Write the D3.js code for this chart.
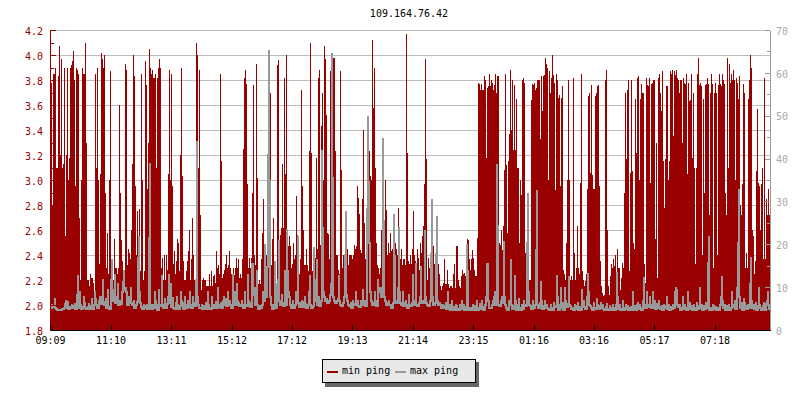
<!DOCTYPE html>
<html>
<head>
<meta charset="utf-8">
<script src="https://cdnjs.cloudflare.com/ajax/libs/d3/7.8.5/d3.min.js"></script>
<style>
html,body{margin:0;padding:0;background:#fff;}
svg{display:block;}
text{font-family:"DejaVu Sans Mono",monospace;font-size:10px;}
</style>
</head>
<body>
<svg id="chart" width="800" height="400"></svg>
<script>
const title = "109.164.76.42";
const startTime = "09:09";
const timeLabels = ["09:09","11:10","13:11","15:12","17:12","19:13","21:14","23:15","01:16","03:16","05:17","07:18"];
const pingTicks = [1.8,2.0,2.2,2.4,2.6,2.8,3.0,3.2,3.4,3.6,3.8,4.0,4.2];
const pingMinorTicks = [1.9,2.1,2.3,2.5,2.7,2.9,3.1,3.3,3.5,3.7,3.9,4.1];
const maxTicks = [0,10,20,30,40,50,60,70];
const maxMinorTicks = [5,15,25,35,45,55,65];
const seriesNames = ["min ping","max ping"];
const minPing = [
3.95,3.78,2.8,3.85,3.85,3.9,3.1,3.1,3.83,4.07,
3.2,3.97,3.1,3.13,3.9,2.55,3.2,3.9,3.0,3.18,
3.9,3.92,3.95,4.03,3.8,2.95,3.9,3.88,3.85,2.7,
2.2,3.0,3.9,3.85,3.85,4.1,3.3,2.2,2.2,2.15,
2.25,2.22,2.22,2.18,2.1,3.85,3.1,3.9,3.0,2.33,
3.05,4.02,3.97,3.9,4.0,2.9,2.3,2.58,2.25,3.0,
3.87,2.3,2.2,2.2,2.53,2.3,2.3,2.25,2.3,3.6,
2.9,2.52,2.35,2.27,2.27,3.93,3.88,2.32,2.45,2.42,
2.37,2.6,3.13,4.0,3.83,2.95,2.4,2.75,2.47,2.77,
2.27,3.85,3.0,2.2,2.27,3.95,3.76,2.93,3.3,4.05,
3.9,3.85,3.88,3.82,3.82,3.85,3.1,3.82,3.9,3.97,
3.9,2.3,2.38,2.2,2.4,2.2,2.4,2.28,3.05,3.88,
3.0,3.85,2.95,2.33,2.43,2.25,2.35,2.53,2.5,2.27,
3.2,3.9,3.03,2.35,2.2,2.2,2.27,2.35,2.43,2.6,
2.2,2.37,2.7,2.4,2.2,2.15,4.1,4.0,3.1,3.88,
2.72,2.12,2.2,2.22,2.2,2.2,2.15,2.15,2.15,2.25,
2.15,2.27,2.15,2.23,2.24,2.18,2.43,2.3,2.32,2.25,
3.85,3.15,2.22,2.25,2.28,2.33,2.4,2.3,2.32,2.43,
2.3,2.25,2.22,2.3,2.24,2.3,2.38,2.3,2.37,2.22,
2.25,2.22,2.37,3.25,3.82,3.88,3.77,2.97,2.3,2.38,
2.3,2.38,2.9,3.76,2.4,2.32,3.93,3.02,2.17,2.2,
2.17,2.37,2.58,2.85,2.25,2.3,2.4,2.38,3.02,3.03,
3.7,2.32,2.53,2.7,2.33,2.2,2.18,3.92,3.96,2.3,
2.56,2.62,3.13,2.62,3.82,3.05,4.0,2.6,2.47,2.55,
2.47,2.3,2.33,2.5,2.37,2.4,2.87,2.56,2.4,2.25,
2.37,3.72,2.95,2.6,2.32,2.32,2.45,2.32,2.27,3.23,
4.1,3.22,2.27,2.27,2.32,2.38,3.18,2.45,3.82,3.88,
2.48,3.43,3.7,3.0,4.07,3.97,3.52,2.58,2.57,2.37,
3.87,3.8,3.8,3.98,3.98,3.23,2.4,2.4,2.28,2.25,
3.87,3.08,2.3,2.4,2.3,2.4,2.66,2.45,2.32,2.4,
2.4,2.4,2.37,2.4,2.48,2.45,2.47,2.95,2.86,2.73,
2.44,2.42,2.85,3.4,2.66,2.37,2.77,3.0,2.5,3.23,
3.03,3.0,4.12,3.58,3.9,3.1,2.5,2.32,2.3,2.25,
2.3,2.6,2.56,2.4,2.37,3.0,2.76,2.4,2.5,2.42,
2.58,2.43,2.45,2.6,2.4,2.5,2.45,2.4,2.78,2.52,
2.37,2.45,2.32,2.37,2.37,2.32,4.17,3.22,2.35,2.33,
2.4,2.33,2.45,2.75,2.4,2.35,2.33,2.45,2.38,2.28,
2.5,2.42,2.55,2.63,2.97,3.97,3.17,2.2,2.38,2.3,
2.42,2.53,2.5,2.47,2.33,2.4,2.23,2.4,2.33,2.25,
2.15,2.12,2.15,2.18,2.37,2.17,2.17,2.28,2.17,2.14,
2.15,2.15,2.14,2.25,2.33,2.14,2.47,2.47,2.2,2.15,
2.14,2.23,2.28,2.25,2.26,2.23,2.37,2.53,2.52,2.37,
2.28,2.37,2.44,2.38,2.28,2.23,2.23,2.54,3.78,3.77,
3.72,3.77,3.72,3.72,3.83,3.8,3.18,3.74,3.75,3.85,
3.75,3.8,3.78,3.72,3.76,3.85,3.7,3.83,3.83,2.5,
2.48,2.6,2.44,2.63,3.08,3.85,3.12,2.58,3.15,3.37,
3.88,3.4,3.8,3.24,3.76,3.24,3.65,3.1,3.1,2.5,
3.0,2.88,3.8,3.82,3.78,2.42,2.5,2.15,2.15,2.2,
2.2,3.64,3.77,3.76,3.78,3.72,3.74,3.8,3.8,3.8,
3.33,3.83,3.55,3.83,3.84,3.98,3.93,3.9,3.0,3.87,
3.7,3.82,4.0,3.84,3.78,2.92,3.85,3.8,3.66,3.68,
2.95,3.66,3.75,2.28,2.25,2.2,2.5,3.0,3.8,3.0,
2.2,2.23,2.2,3.82,2.42,2.2,2.3,2.63,2.3,2.25,
2.98,3.85,2.27,2.2,2.15,2.19,2.25,2.93,3.67,3.7,
3.06,3.76,3.04,2.93,2.93,3.67,3.7,3.75,3.76,2.95,
2.35,2.15,2.1,2.07,2.08,3.8,3.88,2.6,2.15,2.08,
2.23,2.33,2.3,2.37,2.31,2.4,2.25,2.45,2.3,2.3,
2.12,2.22,2.34,2.3,2.9,3.7,3.17,3.72,3.8,2.27,
3.06,3.8,3.07,2.5,2.45,3.65,3.22,3.82,3.83,3.0,
3.65,3.77,3.7,3.7,2.33,2.18,3.82,3.76,3.75,3.82,
2.98,3.77,3.78,3.8,3.8,2.53,3.3,2.22,3.82,3.85,
3.7,3.55,3.87,3.15,2.78,3.17,3.75,3.75,3.0,3.15,
3.87,3.85,3.88,3.35,3.87,3.84,3.88,3.82,3.8,3.7,
3.8,3.8,3.3,3.82,3.78,3.77,3.85,3.05,3.78,3.63,
3.64,3.85,3.18,3.7,3.1,2.33,3.1,3.85,3.98,3.76,
3.78,3.75,2.4,3.65,2.9,3.76,3.77,3.82,3.77,2.72,
3.7,3.85,3.77,2.3,3.7,3.78,3.7,2.4,3.76,3.85,
3.77,3.75,3.85,3.8,3.77,2.9,2.72,3.98,3.1,3.93,
3.78,3.85,3.8,3.88,3.8,3.0,3.82,3.78,3.65,3.83,
2.8,2.72,2.97,3.77,3.7,2.3,2.42,2.3,3.65,3.8,
4.0,3.9,2.6,2.55,2.25,2.35,3.07,3.57,2.98,2.95,
2.6,2.97,3.1,2.37,3.82,2.37,2.85,2.72,2.93,2.72
];
const maxPing = [
5.3,6,5.6,5.6,7.5,5.4,5.2,4.8,5,5,
4.8,5.2,5.2,5.4,6.2,7,5.4,6.8,5.2,5.6,
5.6,6,5.4,5.8,6.2,5.2,8.5,12.8,5.4,9,
6,5.2,5.6,8,6.6,5.4,5.2,5.6,6.4,5.8,
5.2,7.5,5.2,6,9,7.5,6,5.4,7,8,
6.4,8,12,6.8,6,7.5,5.4,9.5,5.6,5.2,
12,16.5,7,9.5,13,6.5,8,11,6,7,
6.2,9,11.5,14,9.5,10,9,6,8,7.5,
10,6.5,6,7,5.4,6,6.8,17,22,9,
6.5,5.6,5.2,6,5.4,5.8,6,5.2,21.8,39,
6,5.2,6,5.4,9,7,6,5,9.5,6,
5.8,12.8,6,5.4,7.5,5.4,6.2,8,13,6.5,
11,5.6,7.8,5.4,5.2,6.5,8,6,5.2,5.8,
9,7,6.5,5.2,8,6,5.4,7,5.6,9,
6,5.4,8,6.5,5.8,12,44,8,6,5.4,
5.4,6,5.2,5.8,5.2,6.5,5.2,9,6,5.4,
5.2,8,5.8,6,5.4,6.8,5.4,10,6,5.6,
6.5,5.4,7,8,6,7.5,5.8,9,6.2,7,
6,5.4,13,8,9,6,11,7,6.5,5.8,
6,7,6,5.4,9,6,5.8,13,7,6.5,
5.6,15.6,15.6,8.5,10,6,14,6,5.2,5.8,
5.4,6,9,7,20,8,15,41,65.3,35,
8,6,5.2,6,16,5.4,11,12,21,7,
6,8.5,6.5,5.8,14,6,23.5,14,9,8,
6,5.4,7,5.4,6,9,7,22,6.5,5.6,
6.5,7,5.6,6.8,8,6.4,5.4,6,9,12.8,
6,5.4,5.8,19.4,7,12,16.6,6,8,5.8,
7,42,24,9,8,7,7.5,6.5,7,8.5,
11,64.6,35.8,8,7,6.5,7,7.5,12.8,7,
6,5.8,6.5,8,17.8,27.7,8.5,7,6,5.8,
6.5,5.4,7,6.2,6,9,6,7,5.8,5.6,
7,7,9.5,6,7,5.8,28.4,50,34.7,20.6,
9,7,6,6.5,9,7,5.8,12,9,10,
10,8,44.7,25.7,8,7,6,6.5,7,6,
6,5.4,6.5,27,17.6,7,6.5,10,24,9,
6.5,6,9,5.8,6.5,7,6,5.4,8.5,6,
5.8,6.5,13,6,7,15.6,6,5.8,6.5,8,
15,7,6.5,7,23.4,8,6.5,6,5.8,7,
18,30.5,8,6,6.5,18,26.5,7,6,6.5,
6,5.4,6,5.8,5.4,6.5,5.2,9,5.4,6,
5,7,5.2,5.6,5,6,5.8,5.2,4.8,6,
5.6,7,5.2,6,5,5.6,20,14,5,5.4,
4.8,5.4,6,5,5.8,5.2,7,5,5.4,6.2,
5.2,7,5.6,5,6,8,15.6,15.6,7,5.4,
5.4,6,7,8,9,6,38.7,24.5,6,5.8,
7,8,6.5,20.7,8,6,5.4,5,7,6,
16.5,6,5.2,5.8,12.8,7,5,6,7.5,5.4,
5,6,5.2,7,6,5.8,20.6,32,9,6,
5.8,5.2,7,5.4,6,19,32.6,6,5.4,6.5,
11.5,7,5.2,5.8,7,5.4,6,5.4,5.2,5,
6,5.4,5,6.5,5.6,5.8,12.8,8,5,6,
10,5.4,6.5,5,10,7,5.6,6.2,12.5,6,
5.8,5.2,5.4,5,6,5.8,5.2,6.5,5,5.6,
5,9.5,6,7,5.6,5.2,8,13.3,9,6,
5.8,5.4,5,6.5,5.2,5.4,7.5,6,5.2,5.8,
6.5,5.4,6,5.2,5,5.6,6.4,5,5.2,5.8,
5.4,5,6,5.4,5,6,13.5,8,5.2,6,
5,5.2,7,5,5.4,6,5.2,5.8,5,5.4,
5.6,5,9,5.2,5.8,5,6,6.5,5.2,6,
5.4,5,7,12.4,6,5.4,9,6,5.6,8,
6,5.4,9,6,7,5.2,6.2,5.4,7,5.6,
5.2,5.8,5,6,5.4,5.8,8,5.2,6,5,
5.6,5.2,6,5.4,9,10,9.5,6,5.6,6,
5,5.4,8,5.2,6,5.4,5,9,5.6,6.5,
5.2,5.8,5,6,5.4,5,6.5,5.2,5.8,10,
5.4,6,5,5.8,5.2,6.5,5.4,15.8,22,5,
5.4,5,6,5.8,5.2,5.6,5,5.4,5,6,
8,12.7,7,5.4,6,5,5.8,5.2,6,5,
5.4,9,5.6,6,7,5.2,10,20.6,33,8,
5.4,6.5,5,7.5,6.5,5.8,5.2,6,5.4,11,
17,7,5.4,6,5.2,6.5,5,5.8,10,6,
5.4,5,5.8,6.5,5,6.4,7,9,6,5.2
];

const RED = "#990000", GRAY = "#999999", GRID = "#bebebe";
const L = 50, R = 770, T = 30, B = 330;
const svg = d3.select("#chart");

const sampleX = d3.scaleLinear().domain([0, minPing.length]).range([L, R]);
const minutesFromStart = s => {
  const [h, m] = s.split(":").map(Number);
  const [h0, m0] = startTime.split(":").map(Number);
  return ((h * 60 + m) - (h0 * 60 + m0) + 1440) % 1440;
};
const timeX = d3.scaleLinear().domain([0, 1440]).range([L, R]);
const yPing = d3.scaleLinear().domain([1.8, 4.2]).range([B, T]);
const yMax = d3.scaleLinear().domain([0, 70]).range([B, T]);

function styleAxis(g, color) {
  g.attr("font-family", null).attr("font-size", null);
  g.selectAll("line,path").attr("stroke", color).attr("shape-rendering", "crispEdges");
  g.selectAll("text").attr("fill", color);
}

// grid lines
const grid = svg.append("g").attr("transform", `translate(${L},0)`)
  .call(d3.axisLeft(yPing).tickValues(pingTicks).tickSize(-(R - L)).tickFormat(""));
grid.select(".domain").remove();
grid.selectAll("line").attr("stroke", GRID).attr("shape-rendering", "crispEdges");

// min ping: one step column per sample
const area = d3.area()
  .x((d, i) => sampleX(i))
  .y0(yPing(1.8))
  .y1(d => yPing(d))
  .curve(d3.curveStepAfter);
svg.append("path").datum(minPing.concat(minPing[minPing.length - 1]))
  .attr("d", area).attr("fill", RED).attr("shape-rendering", "crispEdges");

// max ping: a two-pixel column per sample, reaching down to its lowest neighbour
const lineThickness = 2;
const lowEnd = (d, i) => Math.min(d, maxPing[i - 1] ?? d, maxPing[i + 1] ?? d);
svg.append("g").attr("fill", GRAY).attr("shape-rendering", "crispEdges")
  .selectAll("rect").data(maxPing).join("rect")
  .attr("x", (d, i) => sampleX(i))
  .attr("width", (d, i) => Math.min(2, R - sampleX(i)))
  .attr("y", d => yMax(d))
  .attr("height", (d, i) => yMax(lowEnd(d, i)) - yMax(d) + lineThickness);

// left axis
const leftMinor = svg.append("g").attr("transform", `translate(${L},0)`)
  .call(d3.axisLeft(yPing).tickValues(pingMinorTicks).tickSize(-3.5).tickFormat(""));
leftMinor.select(".domain").remove();
styleAxis(leftMinor, RED);
const leftAxis = svg.append("g").attr("transform", `translate(${L},0)`)
  .call(d3.axisLeft(yPing).tickValues(pingTicks).tickSize(-5.5).tickSizeOuter(0).tickPadding(7).tickFormat(d3.format(".1f")));
styleAxis(leftAxis, RED);
leftAxis.selectAll("text").attr("dy", "0.42em");

// right axis
const rightMinor = svg.append("g").attr("transform", `translate(${R},0)`)
  .call(d3.axisRight(yMax).tickValues(maxMinorTicks).tickSize(-3.5).tickFormat(""));
rightMinor.select(".domain").remove();
styleAxis(rightMinor, GRAY);
const rightAxis = svg.append("g").attr("transform", `translate(${R},0)`)
  .call(d3.axisRight(yMax).tickValues(maxTicks).tickSize(-5.5).tickSizeOuter(0).tickPadding(6));
styleAxis(rightAxis, GRAY);
rightAxis.selectAll("text").attr("fill", "#aaaaaa").attr("dy", "0.42em");

// bottom axis
const bottomAxis = svg.append("g").attr("transform", `translate(0,${B})`)
  .call(d3.axisBottom(timeX).tickValues(timeLabels.map(minutesFromStart))
    .tickSize(-5).tickSizeOuter(0).tickPadding(7)
    .tickFormat((d, i) => timeLabels[i]));
styleAxis(bottomAxis, "#000");

// title
svg.append("text").attr("x", 409).attr("y", 17).attr("text-anchor", "middle").attr("fill", "#000").text(title);

// legend
const legend = svg.append("g").attr("shape-rendering", "crispEdges");
legend.append("rect").attr("x", 325).attr("y", 362).attr("width", 154).attr("height", 25).attr("fill", "#666666");
legend.append("rect").attr("x", 322.5).attr("y", 359.5).attr("width", 153).attr("height", 23)
  .attr("fill", "#e8e8e8").attr("stroke", "#000");
const legendX = [327, 395];
const legendColors = [RED, GRAY];
seriesNames.forEach((name, i) => {
  legend.append("rect").attr("x", legendX[i]).attr("y", 371).attr("width", 11).attr("height", 2).attr("fill", legendColors[i]);
  legend.append("text").attr("x", legendX[i] + 15).attr("y", 374).attr("fill", "#000").attr("shape-rendering", null).text(name);
});
</script>
</body>
</html>
